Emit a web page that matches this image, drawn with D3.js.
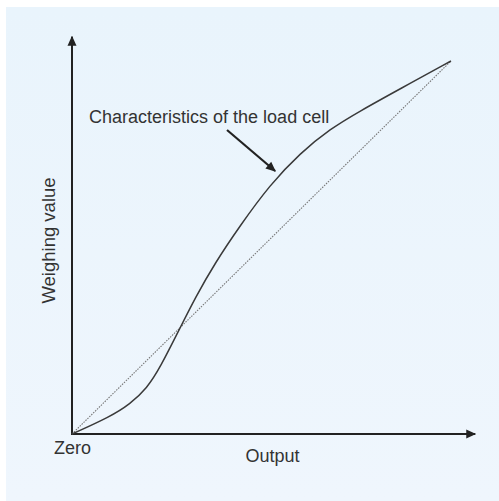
<!DOCTYPE html>
<html><head><meta charset="utf-8">
<script src="https://cdn.jsdelivr.net/npm/d3@7"></script>
<style>html,body{margin:0;padding:0;background:#fff;}svg{display:block;}</style>
</head><body>
<script>
// Data (normalized units, 0-100)
const outputValues   = [0, 10.0, 15.3, 19.8, 23.2, 28.5, 32.5, 37.7, 44.3, 52.2, 60.2, 68.1, 76.0, 86.5, 100];
const weighingValues = [0, 4.6, 8.0, 12.3, 17.7, 28.4, 36.5, 45.8, 55.8, 66.8, 75.3, 81.8, 86.6, 92.5, 100];
const idealLine = [[0, 0], [100, 100]];
const axisLabels = {x: "Output", y: "Weighing value", origin: "Zero"};
const annotationText = "Characteristics of the load cell";
const annotationTextPos = [4.5, 83.3];
const annotationArrow = [[40.9, 81.5], [53.6, 70.5]];

const W = 499, H = 501;
const svg = d3.select("body").append("svg").attr("width", W).attr("height", H);

const defs = svg.append("defs");
const grad = defs.append("linearGradient").attr("id", "bg").attr("x1", 0).attr("y1", 0).attr("x2", 0).attr("y2", 1);
grad.append("stop").attr("offset", "0%").attr("stop-color", "#e9f4fc");
grad.append("stop").attr("offset", "100%").attr("stop-color", "#eff6fd");

defs.append("marker").attr("id", "ah").attr("viewBox", "0 0 10 10")
  .attr("refX", 9).attr("refY", 5).attr("markerWidth", 10).attr("markerHeight", 10)
  .attr("markerUnits", "userSpaceOnUse").attr("orient", "auto")
  .append("path").attr("d", "M0,0.5 L10,5 L0,9.5 z").attr("fill", "#222");
defs.append("marker").attr("id", "ah2").attr("viewBox", "0 0 10 10")
  .attr("refX", 9).attr("refY", 5).attr("markerWidth", 12).attr("markerHeight", 10)
  .attr("markerUnits", "userSpaceOnUse").attr("orient", "auto")
  .append("path").attr("d", "M0,0.5 L10,5 L0,9.5 z").attr("fill", "#222");

svg.append("rect").attr("x", 6).attr("y", 7).attr("width", W - 6).attr("height", H - 7).attr("fill", "url(#bg)");

const x = d3.scaleLinear().domain([0, 100]).range([72, 451]);
const y = d3.scaleLinear().domain([0, 100]).range([434, 61]);

// axes
svg.append("line").attr("x1", x(0)).attr("y1", y(0)).attr("x2", x(0)).attr("y2", y(106.5))
  .attr("stroke", "#222").attr("stroke-width", 2).attr("marker-end", "url(#ah)");
svg.append("line").attr("x1", x(0) - 1).attr("y1", y(0)).attr("x2", x(106.4)).attr("y2", y(0))
  .attr("stroke", "#222").attr("stroke-width", 2).attr("marker-end", "url(#ah)");

// ideal dotted line
svg.append("path").datum(idealLine)
  .attr("d", d3.line().x(d => x(d[0])).y(d => y(d[1])))
  .attr("fill", "none").attr("stroke", "#777").attr("stroke-width", 1.1).attr("stroke-dasharray", "1.5,1.2");

// characteristic curve
const pts = outputValues.map((v, i) => [v, weighingValues[i]]);
svg.append("path").datum(pts)
  .attr("d", d3.line().x(d => x(d[0])).y(d => y(d[1])).curve(d3.curveBasis))
  .attr("fill", "none").attr("stroke", "#3a3a3a").attr("stroke-width", 1.5);

// annotation
svg.append("line")
  .attr("x1", x(annotationArrow[0][0])).attr("y1", y(annotationArrow[0][1]))
  .attr("x2", x(annotationArrow[1][0])).attr("y2", y(annotationArrow[1][1]))
  .attr("stroke", "#222").attr("stroke-width", 2.2).attr("marker-end", "url(#ah2)");

const font = "Liberation Sans, Arial, sans-serif";
svg.append("text").attr("x", x(annotationTextPos[0])).attr("y", y(annotationTextPos[1]))
  .attr("font-family", font).attr("font-size", 18).attr("fill", "#333").text(annotationText);

svg.append("text").attr("x", 54).attr("y", 454)
  .attr("font-family", font).attr("font-size", 18).attr("fill", "#333").text(axisLabels.origin);
svg.append("text").attr("x", 272.5).attr("y", 462).attr("text-anchor", "middle")
  .attr("font-family", font).attr("font-size", 18).attr("fill", "#333").text(axisLabels.x);
svg.append("text").attr("transform", "translate(55,240.5) rotate(-90)").attr("text-anchor", "middle")
  .attr("font-family", font).attr("font-size", 18.5).attr("fill", "#333").text(axisLabels.y);
</script>
</body></html>
